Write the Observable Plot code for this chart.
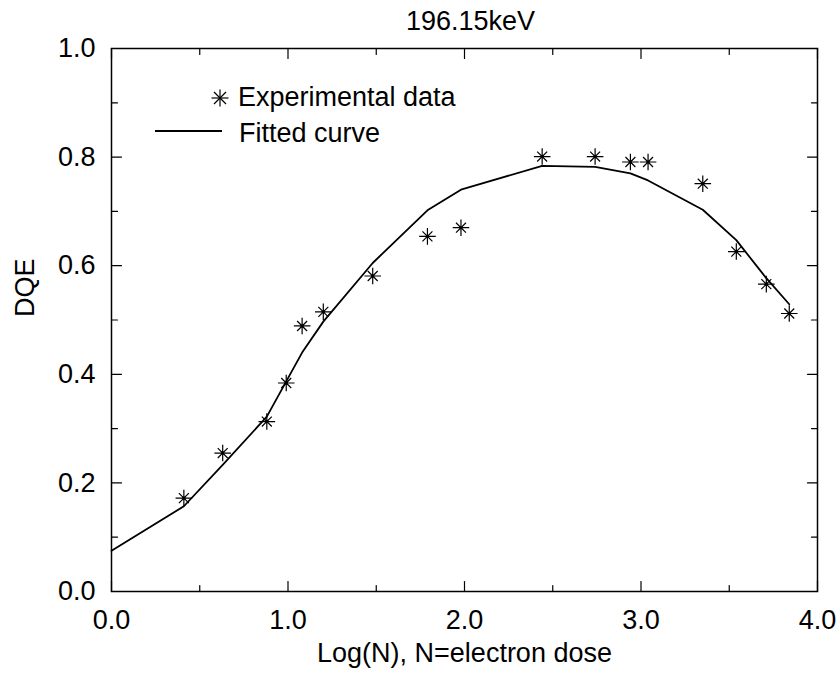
<!DOCTYPE html>
<html>
<head>
<meta charset="utf-8">
<script src="https://cdn.jsdelivr.net/npm/d3@7"></script>
<script src="https://cdn.jsdelivr.net/npm/@observablehq/plot@0.6"></script>
<style>
  html, body { margin: 0; padding: 0; background: #fff; }
  #wrap { position: relative; width: 837px; height: 675px; font-family: "Liberation Sans", Arial, sans-serif; }
  #legend { position: absolute; left: 0; top: 0; width: 837px; height: 675px; pointer-events: none; }
</style>
</head>
<body>
<div id="wrap"></div>
<script>
// ---- data ----
const titleText = "196.15keV";
const xLabel = "Log(N), N=electron dose";
const yLabel = "DQE";
const expX = [0.41, 0.63, 0.88, 0.99, 1.08, 1.20, 1.48, 1.79, 1.98, 2.44, 2.74, 2.94, 3.04, 3.35, 3.54, 3.71, 3.84];
const expY = [0.172, 0.255, 0.313, 0.384, 0.489, 0.515, 0.581, 0.654, 0.670, 0.801, 0.801, 0.791, 0.791, 0.751, 0.626, 0.566, 0.512];
const fitX = [0, 0.41, 0.63, 0.88, 0.99, 1.08, 1.20, 1.48, 1.79, 1.98, 2.44, 2.74, 2.94, 3.04, 3.35, 3.54, 3.71, 3.84];
const fitY = [0.075, 0.157, 0.233, 0.322, 0.387, 0.440, 0.497, 0.605, 0.702, 0.740, 0.784, 0.782, 0.770, 0.757, 0.703, 0.647, 0.577, 0.529];
const xMajor = [0, 1, 2, 3, 4];
const xMinor = [0.5, 1.5, 2.5, 3.5];
const yMajor = [0, 0.2, 0.4, 0.6, 0.8, 1.0];
const yMinor = [0.1, 0.3, 0.5, 0.7, 0.9];
const legendLabels = ["Experimental data", "Fitted curve"];

const expData = expX.map((x, i) => ({x, y: expY[i]}));
const fitData = fitX.map((x, i) => ({x, y: fitY[i]}));
const fmt = d3.format(".1f");

// straight tick shape for vector marks
const tickShape = {draw(context, l) { context.moveTo(0, 0); context.lineTo(0, -l); }};
const inwardX = (values, side, len) => Plot.vector(values, {
  x: d => d, frameAnchor: side, rotate: side === "bottom" ? 0 : 180,
  length: len, anchor: "start", shape: tickShape, stroke: "#000", strokeWidth: 1.2
});
const inwardY = (values, side, len) => Plot.vector(values, {
  y: d => d, frameAnchor: side, rotate: side === "left" ? 90 : -90,
  length: len, anchor: "start", shape: tickShape, stroke: "#000", strokeWidth: 1.2
});

const plot = Plot.plot({
  width: 837,
  height: 675,
  marginLeft: 111,
  marginRight: 20,
  marginTop: 48,
  marginBottom: 84,
  style: {fontFamily: "'Liberation Sans', Arial, sans-serif", fontSize: "27px", color: "#000", background: "#fff"},
  x: {domain: [0, 4], axis: null},
  y: {domain: [0, 1], axis: null},
  marks: [
    Plot.frame({stroke: "#000", strokeWidth: 1.5}),
    // major/minor inward ticks on all four sides
    inwardX(xMajor, "bottom", 10), inwardX(xMinor, "bottom", 6),
    inwardX(xMajor, "top", 10), inwardX(xMinor, "top", 6),
    inwardY(yMajor, "left", 10), inwardY(yMinor, "left", 6),
    inwardY(yMajor, "right", 10), inwardY(yMinor, "right", 6),
    // tick labels
    Plot.axisX(xMajor, {anchor: "bottom", tickSize: 0, tickPadding: 18, tickFormat: fmt, label: null, fill: "#000"}),
    Plot.axisY(yMajor, {anchor: "left", tickSize: 0, tickPadding: 16, tickFormat: fmt, label: null, fill: "#000"}),
    // axis titles and chart title
    Plot.text([titleText], {frameAnchor: "top", dy: -38, dx: 6, text: d => d, fill: "#000", fontSize: 27}),
    Plot.text([xLabel], {frameAnchor: "bottom", dy: 70, text: d => d, fill: "#000", fontSize: 27}),
    Plot.text([yLabel], {frameAnchor: "left", dx: -86, dy: -3, rotate: -90, text: d => d, fill: "#000", fontSize: 27}),
    // fitted curve
    Plot.line(fitData, {x: "x", y: "y", stroke: "#000", strokeWidth: 1.8}),
    // experimental points: 8-armed asterisk
    Plot.dot(expData, {x: "x", y: "y", symbol: "plus", r: 5.4, stroke: "#000", strokeWidth: 1.2}),
    Plot.dot(expData, {x: "x", y: "y", symbol: "times", r: 4.6, stroke: "#000", strokeWidth: 1.2}),
    Plot.dot(expData, {x: "x", y: "y", r: 1.8, fill: "#000", stroke: "none"})
  ]
});

const wrap = document.getElementById("wrap");
wrap.appendChild(plot);

// legend overlay
const ns = "http://www.w3.org/2000/svg";
const lg = document.createElementNS(ns, "svg");
lg.setAttribute("id", "legend");
lg.setAttribute("width", 837);
lg.setAttribute("height", 675);
lg.innerHTML = `
  <g stroke="#000" stroke-width="1.2">
    <line x1="211.5" y1="98" x2="228.5" y2="98"/>
    <line x1="220" y1="89.5" x2="220" y2="106.5"/>
    <line x1="214" y1="92" x2="226" y2="104"/>
    <line x1="214" y1="104" x2="226" y2="92"/>
  </g>
  <line x1="155" y1="131" x2="222" y2="131" stroke="#000" stroke-width="1.8"/>
  <text x="238" y="106" font-family="'Liberation Sans', Arial, sans-serif" font-size="27" fill="#000">${legendLabels[0]}</text>
  <text x="239" y="142" font-family="'Liberation Sans', Arial, sans-serif" font-size="27" fill="#000">${legendLabels[1]}</text>
`;
wrap.appendChild(lg);
</script>
</body>
</html>
